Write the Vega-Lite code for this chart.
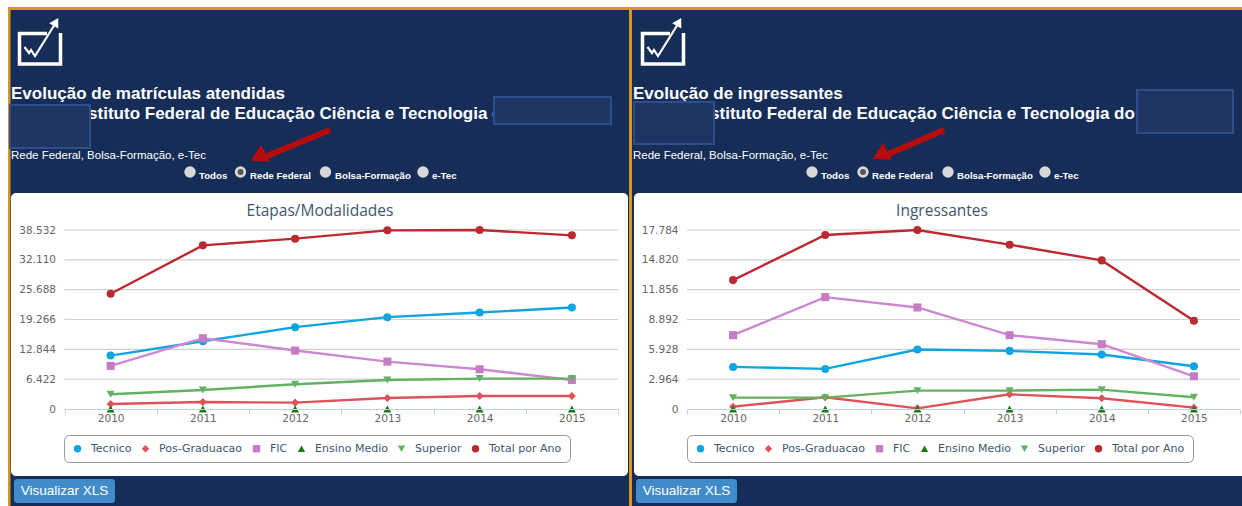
{
"$schema":"https://vega.github.io/schema/vega-lite/v6.json",
"width":1242,"height":506,"padding":0,"autosize":{"type":"none"},"background":"#ffffff",
"config":{"view":{"stroke":null},"font":"Liberation Sans"},
"datasets":{
"left":[
{"year":"2010","serie":"Tecnico","v":11502},{"year":"2011","serie":"Tecnico","v":14594},{"year":"2012","serie":"Tecnico","v":17613},{"year":"2013","serie":"Tecnico","v":19770},{"year":"2014","serie":"Tecnico","v":20776},{"year":"2015","serie":"Tecnico","v":21855},
{"year":"2010","serie":"Pos-Graduacao","v":1078},{"year":"2011","serie":"Pos-Graduacao","v":1510},{"year":"2012","serie":"Pos-Graduacao","v":1366},{"year":"2013","serie":"Pos-Graduacao","v":2372},{"year":"2014","serie":"Pos-Graduacao","v":2804},{"year":"2015","serie":"Pos-Graduacao","v":2804},
{"year":"2010","serie":"FIC","v":9274},{"year":"2011","serie":"FIC","v":15241},{"year":"2012","serie":"FIC","v":12581},{"year":"2013","serie":"FIC","v":10208},{"year":"2014","serie":"FIC","v":8555},{"year":"2015","serie":"FIC","v":6254},
{"year":"2010","serie":"Ensino Medio","v":0},{"year":"2011","serie":"Ensino Medio","v":0},{"year":"2012","serie":"Ensino Medio","v":0},{"year":"2013","serie":"Ensino Medio","v":0},{"year":"2014","serie":"Ensino Medio","v":0},{"year":"2015","serie":"Ensino Medio","v":0},
{"year":"2010","serie":"Superior","v":3163},{"year":"2011","serie":"Superior","v":4098},{"year":"2012","serie":"Superior","v":5320},{"year":"2013","serie":"Superior","v":6254},{"year":"2014","serie":"Superior","v":6542},{"year":"2015","serie":"Superior","v":6542},
{"year":"2010","serie":"Total por Ano","v":24802},{"year":"2011","serie":"Total por Ano","v":35226},{"year":"2012","serie":"Total por Ano","v":36664},{"year":"2013","serie":"Total por Ano","v":38461},{"year":"2014","serie":"Total por Ano","v":38532},{"year":"2015","serie":"Total por Ano","v":37383}
],
"right":[
{"year":"2010","serie":"Tecnico","v":4181},{"year":"2011","serie":"Tecnico","v":3982},{"year":"2012","serie":"Tecnico","v":5906},{"year":"2013","serie":"Tecnico","v":5773},{"year":"2014","serie":"Tecnico","v":5408},{"year":"2015","serie":"Tecnico","v":4247},
{"year":"2010","serie":"Pos-Graduacao","v":232},{"year":"2011","serie":"Pos-Graduacao","v":1161},{"year":"2012","serie":"Pos-Graduacao","v":66},{"year":"2013","serie":"Pos-Graduacao","v":1460},{"year":"2014","serie":"Pos-Graduacao","v":1062},{"year":"2015","serie":"Pos-Graduacao","v":133},
{"year":"2010","serie":"FIC","v":7333},{"year":"2011","serie":"FIC","v":11115},{"year":"2012","serie":"FIC","v":10087},{"year":"2013","serie":"FIC","v":7333},{"year":"2014","serie":"FIC","v":6437},{"year":"2015","serie":"FIC","v":3252},
{"year":"2010","serie":"Ensino Medio","v":0},{"year":"2011","serie":"Ensino Medio","v":0},{"year":"2012","serie":"Ensino Medio","v":0},{"year":"2013","serie":"Ensino Medio","v":0},{"year":"2014","serie":"Ensino Medio","v":0},{"year":"2015","serie":"Ensino Medio","v":0},
{"year":"2010","serie":"Superior","v":1128},{"year":"2011","serie":"Superior","v":1128},{"year":"2012","serie":"Superior","v":1825},{"year":"2013","serie":"Superior","v":1825},{"year":"2014","serie":"Superior","v":1924},{"year":"2015","serie":"Superior","v":1161},
{"year":"2010","serie":"Total por Ano","v":12807},{"year":"2011","serie":"Total por Ano","v":17287},{"year":"2012","serie":"Total por Ano","v":17784},{"year":"2013","serie":"Total por Ano","v":16325},{"year":"2014","serie":"Total por Ano","v":14765},{"year":"2015","serie":"Total por Ano","v":8760}
]
},
"layer":[
{
"encoding":{
"x":{"field":"x","type":"quantitative","scale":{"domain":[0,1242],"range":[0,1242]},"axis":null},
"y":{"field":"y","type":"quantitative","scale":{"domain":[0,506],"range":[0,506]},"axis":null}
},
"layer":[
{"mark":{"type":"rect","color":"#d9961e"},"data":{"values":[{"x":8,"x2":1242,"y":7,"y2":506}]},"encoding":{"x2":{"field":"x2"},"y2":{"field":"y2"}}},
{"mark":{"type":"rect","color":"#162d58"},"data":{"values":[{"x":10.5,"x2":629,"y":10,"y2":506},{"x":632,"x2":1242,"y":10,"y2":506}]},"encoding":{"x2":{"field":"x2"},"y2":{"field":"y2"}}},
{"mark":{"type":"rect","color":"#ffffff","cornerRadius":5},"data":{"values":[{"x":11,"x2":628,"y":193,"y2":476},{"x":634,"x2":1250,"y":193,"y2":476}]},"encoding":{"x2":{"field":"x2"},"y2":{"field":"y2"}}},
{"mark":{"type":"rect","color":"#428bca","cornerRadius":3},"data":{"values":[{"x":14,"x2":115,"y":479,"y2":503},{"x":636,"x2":737,"y":479,"y2":503}]},"encoding":{"x2":{"field":"x2"},"y2":{"field":"y2"}}},
{"mark":{"type":"text","color":"#ffffff","font":"Liberation Sans","fontSize":13.5,"align":"center","baseline":"middle"},"data":{"values":[{"x":64.5,"y":491,"t":"Visualizar XLS"},{"x":686.5,"y":491,"t":"Visualizar XLS"}]},"encoding":{"text":{"field":"t"}}},
{"mark":{"type":"text","color":"#ffffff","font":"Liberation Sans","fontWeight":"bold","fontSize":17,"align":"left","baseline":"alphabetic"},"data":{"values":[{"x":11,"y":99,"t":"Evolução de matrículas atendidas"},{"x":633,"y":99,"t":"Evolução de ingressantes"},{"x":73,"y":119,"t":"Instituto Federal de Educação Ciência e Tecnologia do"},{"x":695,"y":119,"t":"Instituto Federal de Educação Ciência e Tecnologia do"}]},"encoding":{"text":{"field":"t"}}},
{"mark":{"type":"text","color":"#ffffff","font":"Liberation Sans","fontSize":11.5,"align":"left","baseline":"alphabetic"},"data":{"values":[{"x":11,"y":159,"t":"Rede Federal, Bolsa-Formação, e-Tec"},{"x":633,"y":159,"t":"Rede Federal, Bolsa-Formação, e-Tec"}]},"encoding":{"text":{"field":"t"}}},
{"mark":{"type":"text","color":"#ffffff","font":"Liberation Sans","fontWeight":"bold","fontSize":9.7,"align":"left","baseline":"alphabetic"},"data":{"values":[{"x":199,"y":179,"t":"Todos"},{"x":250,"y":179,"t":"Rede Federal"},{"x":335,"y":179,"t":"Bolsa-Formação"},{"x":432,"y":179,"t":"e-Tec"},{"x":821,"y":179,"t":"Todos"},{"x":872,"y":179,"t":"Rede Federal"},{"x":957,"y":179,"t":"Bolsa-Formação"},{"x":1054,"y":179,"t":"e-Tec"}]},"encoding":{"text":{"field":"t"}}},
{"mark":{"type":"point","filled":true,"shape":"circle","size":130,"color":"#d8d8d8","opacity":1},"data":{"values":[{"x":190,"y":172},{"x":240.5,"y":172},{"x":325.5,"y":172},{"x":423,"y":172},{"x":812,"y":172},{"x":863,"y":172},{"x":948,"y":172},{"x":1045,"y":172}]}},
{"mark":{"type":"point","filled":true,"shape":"circle","size":35,"color":"#555555","opacity":1},"data":{"values":[{"x":240.5,"y":172},{"x":863,"y":172}]}},
{"mark":{"type":"rule","color":"#b50d0d","strokeWidth":6},"data":{"values":[{"x":330,"y":130,"x2":262,"y2":158},{"x":944,"y":130,"x2":884,"y2":156}]},"encoding":{"x2":{"field":"x2"},"y2":{"field":"y2"}}},
{"mark":{"type":"point","filled":true,"shape":"triangle-up","size":360,"angle":243,"color":"#b50d0d","opacity":1},"data":{"values":[{"x":258,"y":157},{"x":880,"y":155}]}},
{"mark":{"type":"rect","color":"#213563","stroke":"#2d4f8e","strokeWidth":2},"data":{"values":[{"x":10,"x2":90,"y":105,"y2":148},{"x":494,"x2":611,"y":97,"y2":124},{"x":634,"x2":714,"y":102,"y2":144},{"x":1137,"x2":1233,"y":90,"y2":133}]},"encoding":{"x2":{"field":"x2"},"y2":{"field":"y2"}}},
{"mark":{"type":"line","color":"#ffffff","strokeWidth":3.5,"interpolate":"linear"},"data":{"values":[
{"x":47,"y":33.5,"p":"a1","i":1},{"x":19.5,"y":33.5,"p":"a1","i":2},{"x":19.5,"y":64,"p":"a1","i":3},{"x":60.5,"y":64,"p":"a1","i":4},{"x":60.5,"y":33,"p":"a1","i":5},
{"x":670,"y":33.5,"p":"a2","i":1},{"x":642.5,"y":33.5,"p":"a2","i":2},{"x":642.5,"y":64,"p":"a2","i":3},{"x":683.5,"y":64,"p":"a2","i":4},{"x":683.5,"y":33,"p":"a2","i":5}
]},"encoding":{"detail":{"field":"p"},"order":{"field":"i","type":"quantitative"}}},
{"mark":{"type":"line","color":"#ffffff","strokeWidth":2.2,"interpolate":"linear"},"data":{"values":[
{"x":24.5,"y":47,"p":"b1","i":1},{"x":29,"y":53,"p":"b1","i":2},{"x":31,"y":50,"p":"b1","i":3},{"x":35,"y":56,"p":"b1","i":4},{"x":55,"y":24,"p":"b1","i":5},
{"x":647.5,"y":47,"p":"b2","i":1},{"x":652,"y":53,"p":"b2","i":2},{"x":654,"y":50,"p":"b2","i":3},{"x":658,"y":56,"p":"b2","i":4},{"x":678,"y":24,"p":"b2","i":5}
]},"encoding":{"detail":{"field":"p"},"order":{"field":"i","type":"quantitative"}}},
{"mark":{"type":"point","filled":true,"shape":"triangle-up","size":110,"angle":30,"color":"#ffffff","opacity":1},"data":{"values":[{"x":56,"y":22},{"x":679,"y":22}]}},
{"mark":{"type":"text","color":"#3e576f","font":"Open Sans","fontSize":15.5,"align":"center","baseline":"middle"},"data":{"values":[{"x":320,"y":211,"t":"Etapas/Modalidades"},{"x":942,"y":211,"t":"Ingressantes"}]},"encoding":{"text":{"field":"t"}}}
]
},
{"mark":{"type":"rule","color":"#d0d0d0","strokeWidth":1.2},
"data":{"values":[{"v":6422,"a":2009.5,"b":2015.5},{"v":12844,"a":2009.5,"b":2015.5},{"v":19266,"a":2009.5,"b":2015.5},{"v":25688,"a":2009.5,"b":2015.5},{"v":32110,"a":2009.5,"b":2015.5},{"v":38532,"a":2009.5,"b":2015.5}]},
"encoding":{"x":{"field":"a","type":"quantitative","scale":{"domain":[2009.5,2015.5],"range":[64.5,618]},"axis":null},"x2":{"field":"b"},"y":{"field":"v","type":"quantitative","scale":{"domain":[0,38532],"range":[409,230]},"axis":null}}},
{"mark":{"type":"rule","color":"#d0d0d0","strokeWidth":1.2},
"data":{"values":[{"v":2964,"a":2009.5,"b":2015.5},{"v":5928,"a":2009.5,"b":2015.5},{"v":8892,"a":2009.5,"b":2015.5},{"v":11856,"a":2009.5,"b":2015.5},{"v":14820,"a":2009.5,"b":2015.5},{"v":17784,"a":2009.5,"b":2015.5}]},
"encoding":{"x":{"field":"a","type":"quantitative","scale":{"domain":[2009.5,2015.5],"range":[687,1240]},"axis":null},"x2":{"field":"b"},"y":{"field":"v","type":"quantitative","scale":{"domain":[0,17784],"range":[409,230]},"axis":null}}},
{"data":{"name":"left"},"transform":[{"filter":"datum.serie!='Ensino Medio'"}],"mark":{"type":"line","strokeWidth":2.4},"encoding":{
"x":{"field":"year","type":"ordinal","scale":{"type":"band","paddingInner":0,"paddingOuter":0,"range":[64.5,618]},"axis":{"zindex":1,"title":null,"orient":"bottom","offset":-97,"tickBand":"extent","labelAngle":0,"labelColor":"#666666","labelFontSize":10.5,"labelFont":"DejaVu Sans","tickColor":"#c0d0e0","domainColor":"#c0d0e0","tickSize":5,"grid":false,"labelPadding":-1}},
"y":{"field":"v","type":"quantitative","scale":{"domain":[0,38532],"range":[409,230]},"axis":{"zindex":1,"title":null,"orient":"left","offset":-55.5,"values":[0,6422,12844,19266,25688,32110,38532],"labelExpr":"replace(format(datum.value,','),',','.')","labelColor":"#666666","labelFontSize":10.5,"labelFont":"DejaVu Sans","ticks":false,"domain":false,"grid":false,"labelPadding":0}},
"color":{"field":"serie","scale":{"domain":["Tecnico","Pos-Graduacao","FIC","Ensino Medio","Superior","Total por Ano"],"range":["#0ea5e0","#e0525a","#cc88d0","#167a16","#62b262","#bb2a30"]},"legend":null}}},
{"data":{"name":"left"},"mark":{"type":"point","filled":true,"opacity":1,"size":65},"encoding":{
"x":{"field":"year","type":"ordinal","scale":{"type":"band","paddingInner":0,"paddingOuter":0,"range":[64.5,618]},"axis":null},
"y":{"field":"v","type":"quantitative","scale":{"domain":[0,38532],"range":[409,230]},"axis":null},
"color":{"field":"serie","scale":{"domain":["Tecnico","Pos-Graduacao","FIC","Ensino Medio","Superior","Total por Ano"],"range":["#0ea5e0","#e0525a","#c47cc4","#167a16","#62b262","#bb2a30"]},"legend":{"title":null,"orient":"none","legendX":64,"legendY":435,"direction":"horizontal","columns":6,"fillColor":"#ffffff","strokeColor":"#999999","cornerRadius":5,"padding":8,"labelFont":"DejaVu Sans","labelFontSize":11,"labelColor":"#3e576f","symbolSize":55,"columnPadding":8,"labelOffset":8}},
"shape":{"field":"serie","scale":{"domain":["Tecnico","Pos-Graduacao","FIC","Ensino Medio","Superior","Total por Ano"],"range":["circle","diamond","square","triangle-up","triangle-down","circle"]},"legend":{"title":null,"orient":"none","legendX":64,"legendY":435,"direction":"horizontal","columns":6,"fillColor":"#ffffff","strokeColor":"#999999","cornerRadius":5,"padding":8,"labelFont":"DejaVu Sans","labelFontSize":11,"labelColor":"#3e576f","symbolSize":55,"columnPadding":8,"labelOffset":8}}
}},
{"data":{"name":"right"},"transform":[{"filter":"datum.serie!='Ensino Medio'"}],"mark":{"type":"line","strokeWidth":2.4},"encoding":{
"x":{"field":"year","type":"ordinal","scale":{"type":"band","paddingInner":0,"paddingOuter":0,"range":[687,1240]},"axis":{"zindex":1,"title":null,"orient":"bottom","offset":-97,"tickBand":"extent","labelAngle":0,"labelColor":"#666666","labelFontSize":10.5,"labelFont":"DejaVu Sans","tickColor":"#c0d0e0","domainColor":"#c0d0e0","tickSize":5,"grid":false,"labelPadding":-1}},
"y":{"field":"v","type":"quantitative","scale":{"domain":[0,17784],"range":[409,230]},"axis":{"zindex":1,"title":null,"orient":"left","offset":-678,"values":[0,2964,5928,8892,11856,14820,17784],"labelExpr":"replace(format(datum.value,','),',','.')","labelColor":"#666666","labelFontSize":10.5,"labelFont":"DejaVu Sans","ticks":false,"domain":false,"grid":false,"labelPadding":0}},
"color":{"field":"serie","scale":{"domain":["Tecnico","Pos-Graduacao","FIC","Ensino Medio","Superior","Total por Ano"],"range":["#0ea5e0","#e0525a","#cc88d0","#167a16","#62b262","#bb2a30"]},"legend":null}}},
{"data":{"name":"right"},"mark":{"type":"point","filled":true,"opacity":1,"size":65},"encoding":{
"x":{"field":"year","type":"ordinal","scale":{"type":"band","paddingInner":0,"paddingOuter":0,"range":[687,1240]},"axis":null},
"y":{"field":"v","type":"quantitative","scale":{"domain":[0,17784],"range":[409,230]},"axis":null},
"color":{"field":"serie","scale":{"domain":["Tecnico","Pos-Graduacao","FIC","Ensino Medio","Superior","Total por Ano"],"range":["#0ea5e0","#e0525a","#c47cc4","#167a16","#62b262","#bb2a30"]},"legend":{"title":null,"orient":"none","legendX":687,"legendY":435,"direction":"horizontal","columns":6,"fillColor":"#ffffff","strokeColor":"#999999","cornerRadius":5,"padding":8,"labelFont":"DejaVu Sans","labelFontSize":11,"labelColor":"#3e576f","symbolSize":55,"columnPadding":8,"labelOffset":8}},
"shape":{"field":"serie","scale":{"domain":["Tecnico","Pos-Graduacao","FIC","Ensino Medio","Superior","Total por Ano"],"range":["circle","diamond","square","triangle-up","triangle-down","circle"]},"legend":{"title":null,"orient":"none","legendX":687,"legendY":435,"direction":"horizontal","columns":6,"fillColor":"#ffffff","strokeColor":"#999999","cornerRadius":5,"padding":8,"labelFont":"DejaVu Sans","labelFontSize":11,"labelColor":"#3e576f","symbolSize":55,"columnPadding":8,"labelOffset":8}}
}}
],
"resolve":{"scale":{"x":"independent","y":"independent","color":"independent","shape":"independent"},"axis":{"x":"independent","y":"independent"},"legend":{"color":"independent","shape":"independent"}}
}
